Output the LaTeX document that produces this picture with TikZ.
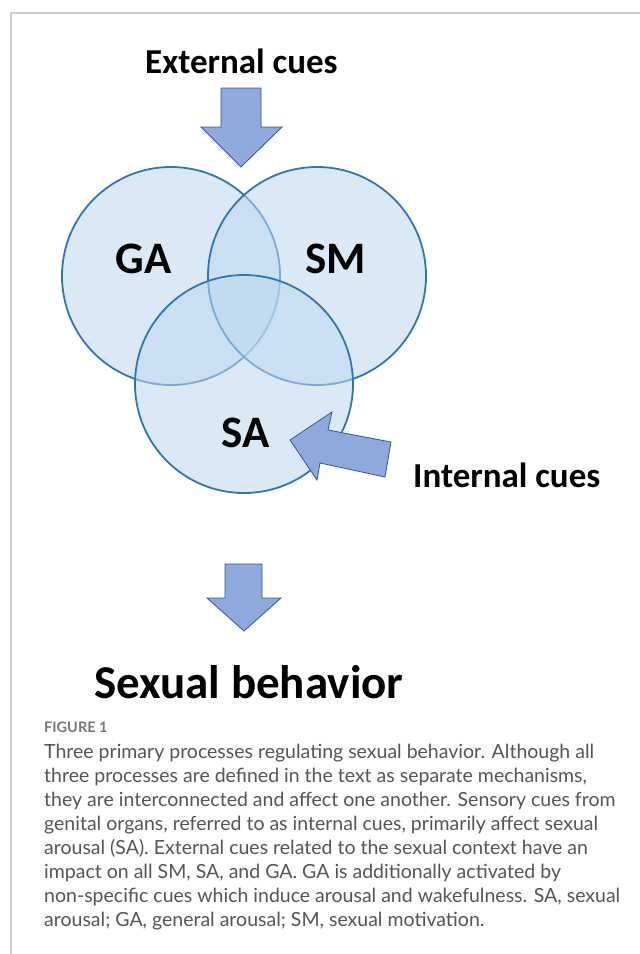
\documentclass[tikz,border=0pt]{standalone}
\usepackage{fontspec}
\newfontfamily\cuefont{Carlito}
\newfontfamily\capfont{Lato}
\definecolor{vennfill}{HTML}{BDD7EE}
\definecolor{vennline}{HTML}{2E75B6}
\definecolor{arrowfill}{HTML}{8EA9DB}
\definecolor{arrowline}{HTML}{2F5597}
\definecolor{framegray}{HTML}{CCCCCC}
\definecolor{capgray}{HTML}{555555}

\begin{document}
\begin{tikzpicture}[x=1pt, y=-1pt,
  venn/.style={circle, draw=vennline, line width=1.8pt, fill=vennfill, fill opacity=0.55, minimum size=218pt, inner sep=0pt},
  blockarrow/.style={draw=arrowline, line width=0.8pt, fill=arrowfill, line join=miter},
  cue/.style={font=\cuefont\bfseries\fontsize{35}{42}\selectfont, inner sep=0pt, anchor=base west},
  region/.style={font=\cuefont\bfseries\fontsize{45}{54}\selectfont, inner sep=0pt, anchor=base}]
\useasboundingbox (0,0) rectangle (640,954);

% Frame
\draw[framegray, line width=1.5pt] (11,954) -- (11,13) -- (640,13);

% Circles
\node[venn] (gacirc) at (171,276) {};
\node[venn] (smcirc) at (317,276) {};
\node[venn] (sacirc) at (244,384) {};

% Labels
\node[region] (ga) at (143.5,273) {GA};
\node[region] (sm) at (335.5,273) {SM};
\node[region] (sa) at (245.5,447) {SA};
\node[cue] (ext) at (145,73) {External cues};
\node[cue] (int) at (413,487) {Internal cues};
\node[cue, font=\cuefont\bfseries\fontsize{47}{56}\selectfont] (beh) at (94,698) {Sexual behavior};

% Block arrows
\draw[blockarrow] (221,88) -- (261,88) -- (261,127) -- (282,127) -- (241,167) -- (201,127) -- (221,127) -- cycle;
\draw[blockarrow] (391,442) -- (385,477) -- (320,463) -- (317,480) -- (290,440) -- (332,412) -- (328,430) -- cycle;
\draw[blockarrow] (225,564) -- (262,564) -- (262,598) -- (281,598) -- (244,631) -- (207,598) -- (225,598) -- cycle;

% Caption
\node[anchor=base west, inner sep=0pt, text=capgray!80, font=\capfont\bfseries\fontsize{14.5}{17}\selectfont] (fig) at (44,732) {FIGURE 1};
\node[anchor=north west, inner sep=0pt, align=left, text=capgray, font=\capfont\fontsize{19.5}{24}\selectfont] (cap) at (44,743.5) {Three primary processes regulating sexual behavior. Although all\\
three processes are defined in the text as separate mechanisms,\\
they are interconnected and affect one another. Sensory cues from\\
genital organs, referred to as internal cues, primarily affect sexual\\
arousal (SA). External cues related to the sexual context have an\\
impact on all SM, SA, and GA. GA is additionally activated by\\
non-specific cues which induce arousal and wakefulness. SA, sexual\\
arousal; GA, general arousal; SM, sexual motivation.};
\end{tikzpicture}
\end{document}
